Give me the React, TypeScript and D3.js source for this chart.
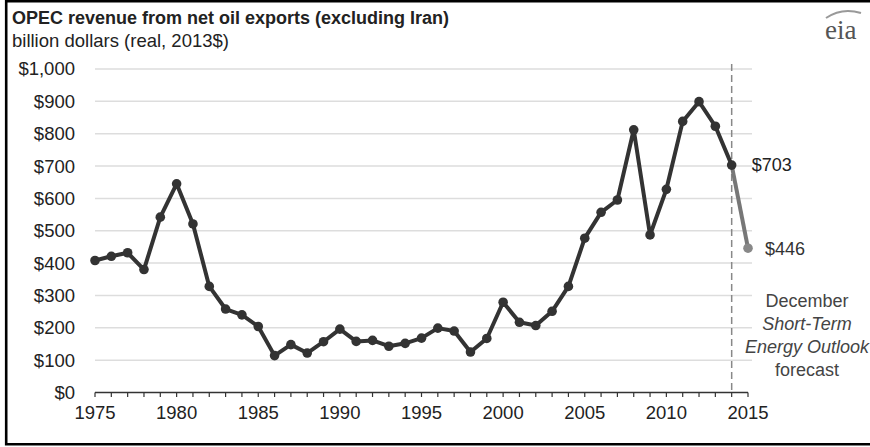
import React from "react";
import * as d3 from "d3";

const years: number[] = d3.range(1975, 2015);
const revenue: number[] = [
  408, 421, 432, 380, 542, 645, 521, 328, 258, 240,
  204, 114, 148, 122, 157, 196, 158, 161, 143, 152,
  168, 199, 190, 125, 167, 279, 217, 207, 251, 328,
  477, 557, 595, 812, 487, 628, 838, 899, 823, 703,
];
const forecastYears: number[] = [2014, 2015];
const forecastValues: number[] = [703, 446];
const yTicks: number[] = [0, 100, 200, 300, 400, 500, 600, 700, 800, 900, 1000];
const xLabelYears: number[] = [1975, 1980, 1985, 1990, 1995, 2000, 2005, 2010, 2015];
const noteLines: { text: string; italic: boolean }[] = [
  { text: "December", italic: false },
  { text: "Short-Term", italic: true },
  { text: "Energy Outlook", italic: true },
  { text: "forecast", italic: false },
];

const W = 870;
const H = 447;
const FONT = "'Liberation Sans', Arial, sans-serif";

export default function App() {
  const x = d3.scaleLinear().domain([1975, 2015]).range([95, 748]);
  const y = d3.scaleLinear().domain([0, 1000]).range([392.5, 69]);
  const fmt = (v: number) => "$" + d3.format(",")(v);

  const hist = years.map((yr, i) => [yr, revenue[i]] as [number, number]);
  const fc = forecastYears.map((yr, i) => [yr, forecastValues[i]] as [number, number]);
  const line = d3
    .line<[number, number]>()
    .x((d) => x(d[0]))
    .y((d) => y(d[1]));

  const allYears = d3.range(1975, 2016);

  return (
    <svg
      width={W}
      height={H}
      style={{ position: "absolute", left: 0, top: 0, background: "#fff" }}
      fontFamily={FONT}
    >
      <rect x={0} y={0} width={W} height={H} fill="#fff" />
      {/* frame */}
      <path d={`M ${W + 5} 1.2 H 6.2 V 444.3 H ${W + 5}`} fill="none" stroke="#000" strokeWidth={2.6} />

      {/* title */}
      <text x={12} y={24} fontSize={18} fontWeight="bold" fill="#222">
        OPEC revenue from net oil exports (excluding Iran)
      </text>
      <text x={12} y={47} fontSize={18.5} fill="#222">
        billion dollars (real, 2013$)
      </text>

      {/* eia logo */}
      <g>
        <path d="M 826 18 Q 842 7 861 13" fill="none" stroke="#999" strokeWidth={2} />
        <text x={825} y={39} fontSize={27} fontFamily="'Liberation Serif', 'DejaVu Serif', serif" fill="#555">
          eia
        </text>
      </g>

      {/* gridlines */}
      {yTicks.map((t) =>
        t === 0 ? null : (
          <line key={t} x1={x(1975)} x2={752} y1={y(t)} y2={y(t)} stroke="#ddd" strokeWidth={1.5} />
        )
      )}

      {/* y labels */}
      {yTicks.map((t) => (
        <text key={t} x={75} y={y(t)} dy="0.35em" textAnchor="end" fontSize={18.5} fill="#222">
          {fmt(t)}
        </text>
      ))}

      {/* x axis */}
      <line x1={x(1975)} x2={x(2015)} y1={y(0)} y2={y(0)} stroke="#333" strokeWidth={1.5} />
      {allYears.map((yr) => (
        <line key={yr} x1={x(yr)} x2={x(yr)} y1={y(0)} y2={y(0) + 4.5} stroke="#333" strokeWidth={1.2} />
      ))}
      {xLabelYears.map((yr) => (
        <text key={yr} x={x(yr)} y={419} textAnchor="middle" fontSize={18.5} fill="#222">
          {yr}
        </text>
      ))}

      {/* forecast divider */}
      <line
        x1={x(2014)}
        x2={x(2014)}
        y1={64}
        y2={y(0)}
        stroke="#888"
        strokeWidth={1.5}
        strokeDasharray="7,4"
      />

      {/* forecast segment */}
      <path d={line(fc) || ""} fill="none" stroke="#777" strokeWidth={4} />
      <circle cx={x(2015)} cy={y(446)} r={4.8} fill="#888" />

      {/* history line */}
      <path d={line(hist) || ""} fill="none" stroke="#333" strokeWidth={4} strokeLinejoin="round" />
      {hist.map((d) => (
        <circle key={d[0]} cx={x(d[0])} cy={y(d[1])} r={4.8} fill="#333" />
      ))}

      {/* value labels */}
      <text x={x(2014) + 20} y={y(703)} dy="0.35em" fontSize={18} fill="#222">
        $703
      </text>
      <text x={x(2015) + 17} y={y(446)} dy="0.35em" fontSize={18} fill="#333">
        $446
      </text>

      {/* note */}
      {noteLines.map((l, i) => (
        <text
          key={i}
          x={807}
          y={307 + i * 23}
          textAnchor="middle"
          fontSize={18}
          fontStyle={l.italic ? "italic" : "normal"}
          fill="#444"
        >
          {l.text}
        </text>
      ))}
    </svg>
  );
}
